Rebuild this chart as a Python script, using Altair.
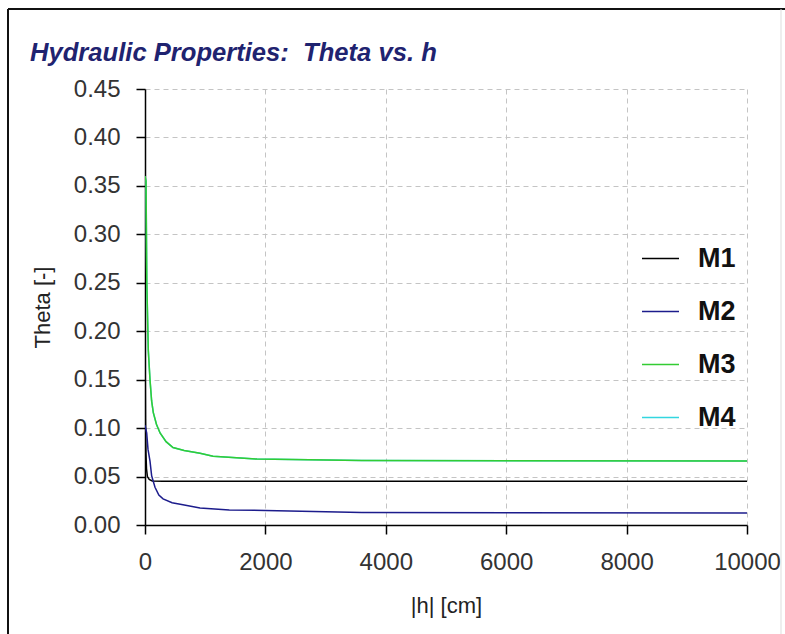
import altair as alt
import pandas as pd

# ---- data ----
h_M1 = [0, 3, 8, 15, 25, 40, 70, 120, 300, 1000, 10000]
theta_M1 = [0.25, 0.17, 0.11, 0.075, 0.058, 0.050, 0.047, 0.0455, 0.0452, 0.0452, 0.0452]

h_M2 = [0, 10, 28, 50, 83, 110, 166, 230, 300, 450, 630, 914, 1400, 2000, 3600, 10000]
theta_M2 = [0.103, 0.100, 0.095, 0.078, 0.066, 0.051, 0.039, 0.031, 0.027, 0.023, 0.021, 0.0175, 0.0155, 0.015, 0.0128, 0.0124]

h_M3 = [0, 17, 30, 55, 83, 110, 138, 190, 250, 350, 465, 650, 914, 1130, 1860, 3600, 10000]
theta_M3 = [0.36, 0.355, 0.25, 0.18, 0.150, 0.128, 0.116, 0.104, 0.095, 0.086, 0.080, 0.077, 0.074, 0.071, 0.068, 0.0665, 0.066]

h_M4 = [0, 17, 30, 55, 83, 110, 138, 190, 250, 350, 465, 650, 914, 1130, 1860, 3600, 10000]
theta_M4 = [0.36, 0.355, 0.25, 0.18, 0.150, 0.128, 0.116, 0.104, 0.095, 0.086, 0.080, 0.077, 0.074, 0.071, 0.068, 0.0665, 0.066]

series_names = ["M1", "M2", "M3", "M4"]
series_colors = ["#000000", "#1c1c8c", "#33cc33", "#33d6e0"]
x_ticks = [0, 2000, 4000, 6000, 8000, 10000]
y_ticks = [0.00, 0.05, 0.10, 0.15, 0.20, 0.25, 0.30, 0.35, 0.40, 0.45]

rows = []
for name, hs, ts in [("M1", h_M1, theta_M1), ("M2", h_M2, theta_M2),
                     ("M3", h_M3, theta_M3), ("M4", h_M4, theta_M4)]:
    for i, (h, t) in enumerate(zip(hs, ts)):
        rows.append({"series": name, "h": h, "theta": t, "i": i})
df = pd.DataFrame(rows)

FONT = "Liberation Sans"

color_scale = alt.Scale(domain=series_names, range=series_colors)
legend = alt.Legend(title=None, orient="none", legendX=496, legendY=150,
                    symbolType="stroke", symbolSize=1369, symbolStrokeWidth=1.5,
                    labelFontSize=27, labelFontWeight="bold",
                    labelFont=FONT, labelColor="#111111",
                    labelOffset=18, rowPadding=20, padding=0)
x_enc = alt.X("h:Q", scale=alt.Scale(domain=[0, 10000], nice=False),
              axis=alt.Axis(values=x_ticks, title="|h| [cm]", format="d",
                            labelFlush=False, titleY=80, titleBaseline="middle"))
y_enc = alt.Y("theta:Q", scale=alt.Scale(domain=[0, 0.45], nice=False),
              axis=alt.Axis(values=y_ticks, title="Theta [-]", format=".2f",
                            labelFlush=False, titleX=-103, titleBaseline="middle"))
c_enc = alt.Color("series:N", scale=color_scale, legend=legend)

bottom = alt.Chart(df).transform_filter(alt.datum.series == "M4").mark_line(
    strokeWidth=1.5, clip=True
).encode(x=x_enc, y=y_enc, order="i:Q", color=c_enc)

top = alt.Chart(df).transform_filter(alt.datum.series != "M4").mark_line(
    strokeWidth=1.5, clip=True
).encode(x=x_enc, y=y_enc, order="i:Q", color=c_enc)

# outer frame of the picture (decoration)
frame_left = alt.Chart(pd.DataFrame({"a": [0]})).mark_rule(
    color="#111111", strokeWidth=2
).encode(x=alt.value(-137), y=alt.value(-80), y2=alt.value(545))
frame_top = alt.Chart(pd.DataFrame({"a": [0]})).mark_rule(
    color="#111111", strokeWidth=2
).encode(x=alt.value(-137), x2=alt.value(640), y=alt.value(-80))
frame_right = alt.Chart(pd.DataFrame({"a": [0]})).mark_rule(
    color="#dddddd", strokeWidth=1
).encode(x=alt.value(636), y=alt.value(-80), y2=alt.value(545))

chart = alt.layer(bottom, top, frame_left, frame_top, frame_right).properties(
    width=602, height=436,
    title=alt.TitleParams("Hydraulic Properties:\u00a0 Theta vs. h",
                          anchor="start", frame="group", dx=-115,
                          offset=0, dy=79, baseline="alphabetic",
                          font=FONT, fontSize=25.6, fontWeight="bold",
                          fontStyle="italic", color="#1f2370"),
    autosize=alt.AutoSizeParams(type="none"),
    padding={"left": 145, "top": 89, "right": 38, "bottom": 109},
).configure_view(stroke=None).configure_axis(
    labelFont=FONT, labelFontSize=24, labelColor="#333333",
    titleFont=FONT, titleFontSize=22, titleFontWeight="normal", titleColor="#222222",
    domainColor="#000000", domainWidth=1.5,
    tickColor="#000000", tickWidth=1.5, tickSize=9,
    grid=True, gridColor="#c4c4c4", gridDash=[5, 4], gridWidth=1,
).configure_axisY(labelPadding=16).configure_axisX(labelPadding=16)

chart.save("out.html", embed_options={"renderer": "svg", "actions": False})
